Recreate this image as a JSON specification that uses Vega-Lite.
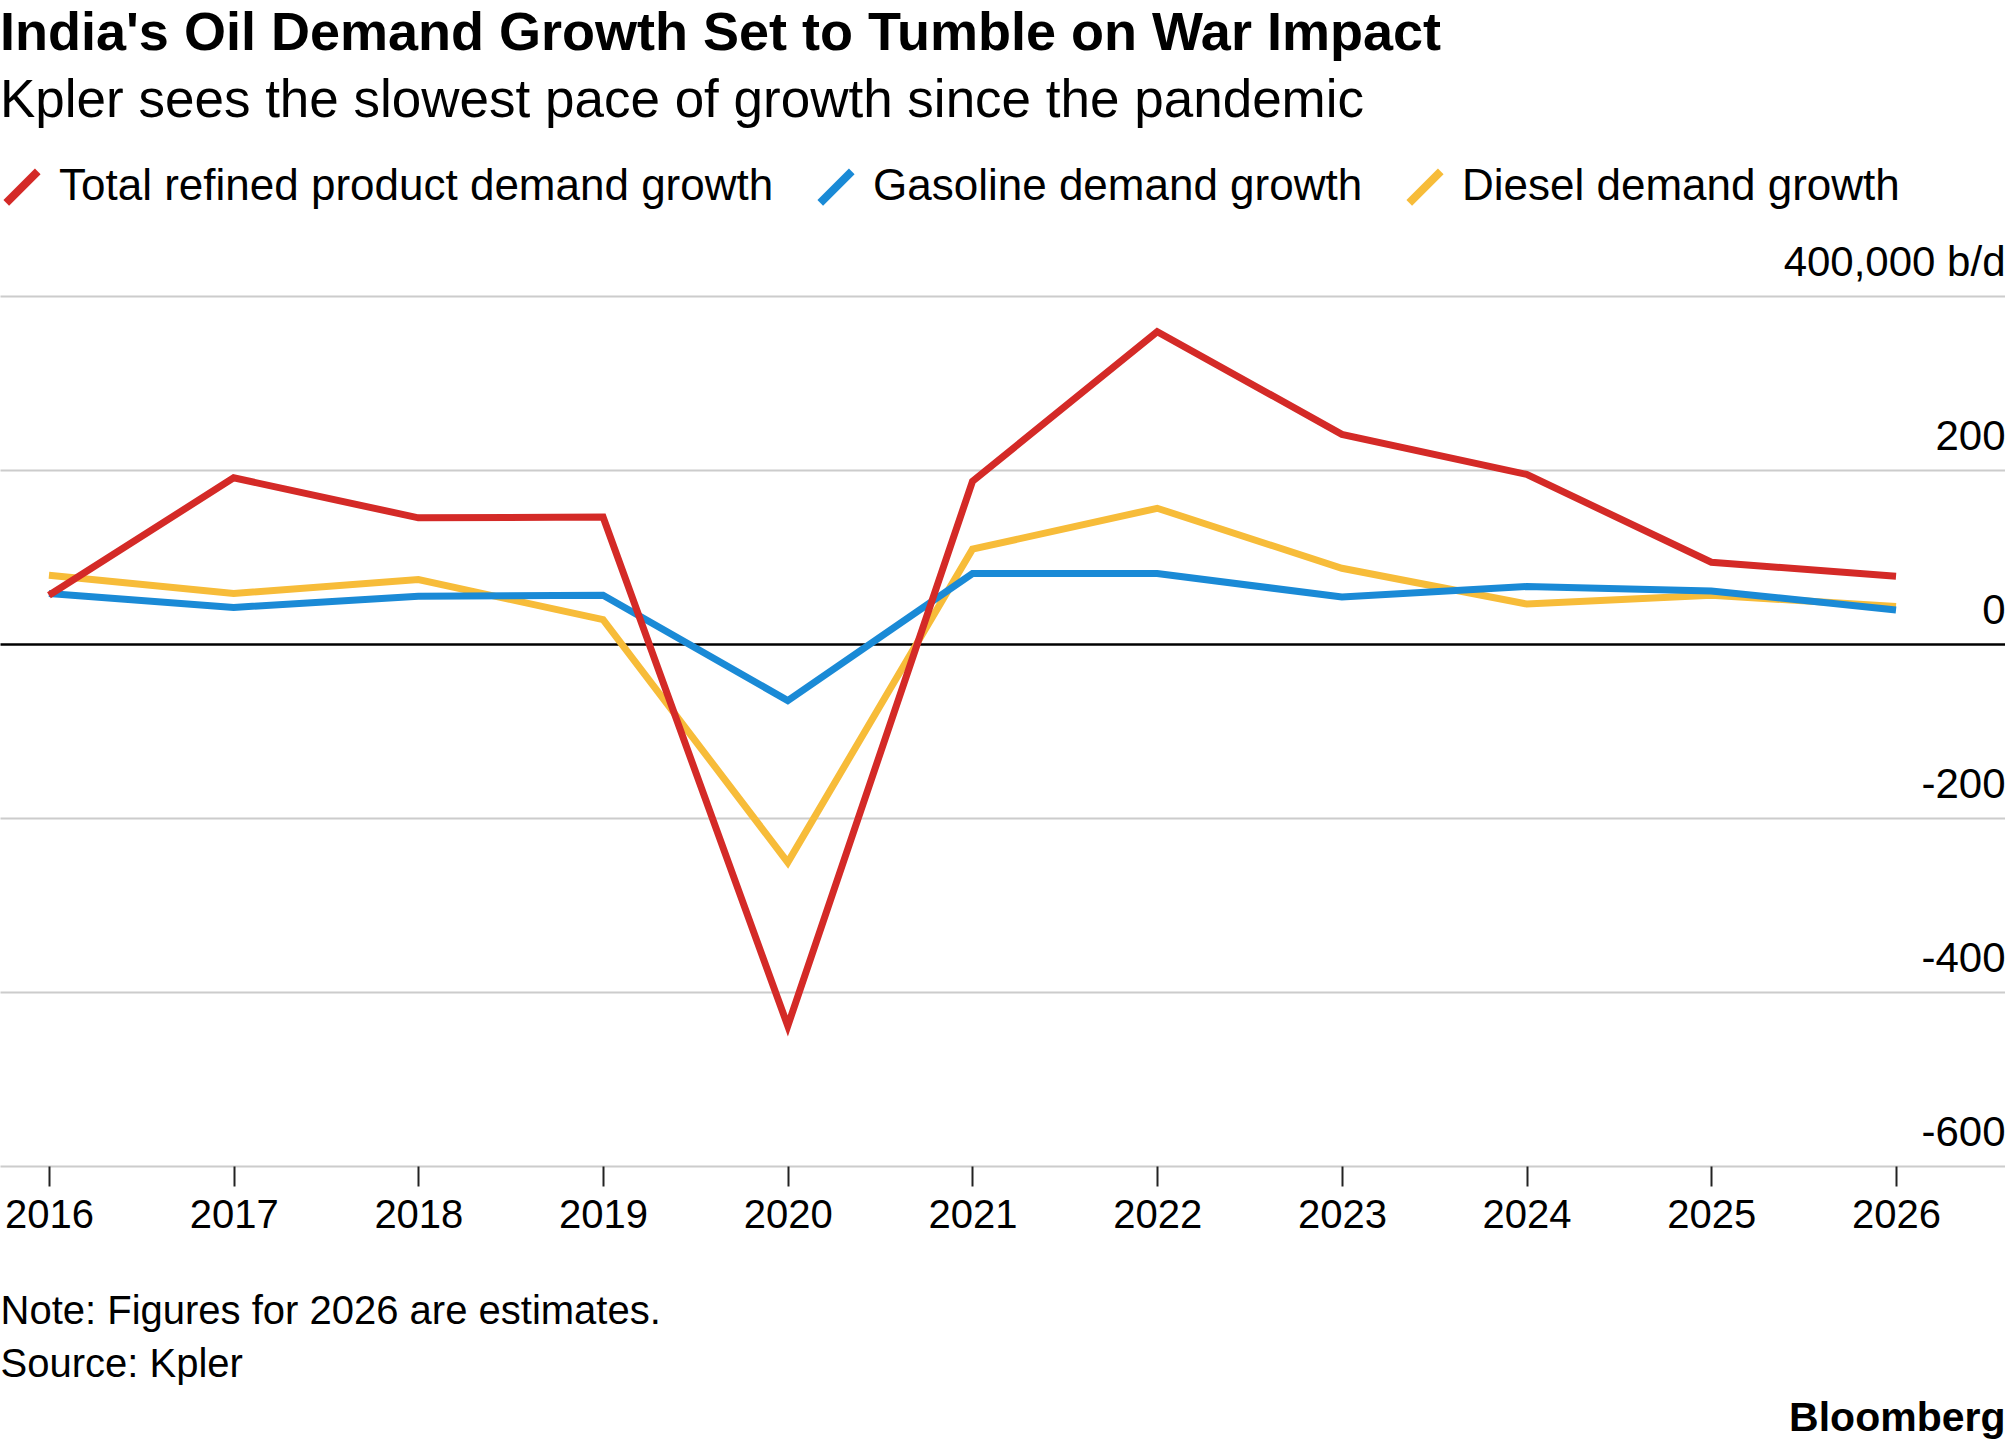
{
  "$schema": "https://vega.github.io/schema/vega-lite/v6.json",
  "description": "India oil demand growth by product, Kpler",
  "width": 2005,
  "height": 870,
  "autosize": {"type": "none"},
  "padding": {"left": 0, "top": 296, "right": 0, "bottom": 280},
  "background": "#ffffff",
  "title": {
    "text": "India's Oil Demand Growth Set to Tumble on War Impact",
    "subtitle": "Kpler sees the slowest pace of growth since the pandemic",
    "anchor": "start",
    "frame": "group",
    "offset": 37,
    "font": "Liberation Sans",
    "fontSize": 54,
    "fontWeight": "bold",
    "color": "#000000",
    "subtitleFont": "Liberation Sans",
    "subtitleFontSize": 53,
    "subtitleColor": "#000000",
    "subtitlePadding": 14
  },
  "data": {
    "values": [
      {"year": 2016, "series": "Diesel demand growth", "value": 79},
      {"year": 2017, "series": "Diesel demand growth", "value": 58},
      {"year": 2018, "series": "Diesel demand growth", "value": 74},
      {"year": 2019, "series": "Diesel demand growth", "value": 28},
      {"year": 2020, "series": "Diesel demand growth", "value": -251},
      {"year": 2021, "series": "Diesel demand growth", "value": 109},
      {"year": 2022, "series": "Diesel demand growth", "value": 156},
      {"year": 2023, "series": "Diesel demand growth", "value": 87},
      {"year": 2024, "series": "Diesel demand growth", "value": 46},
      {"year": 2025, "series": "Diesel demand growth", "value": 56},
      {"year": 2026, "series": "Diesel demand growth", "value": 43},
      {"year": 2016, "series": "Gasoline demand growth", "value": 58},
      {"year": 2017, "series": "Gasoline demand growth", "value": 42},
      {"year": 2018, "series": "Gasoline demand growth", "value": 55},
      {"year": 2019, "series": "Gasoline demand growth", "value": 56},
      {"year": 2020, "series": "Gasoline demand growth", "value": -65},
      {"year": 2021, "series": "Gasoline demand growth", "value": 81},
      {"year": 2022, "series": "Gasoline demand growth", "value": 81},
      {"year": 2023, "series": "Gasoline demand growth", "value": 54},
      {"year": 2024, "series": "Gasoline demand growth", "value": 66},
      {"year": 2025, "series": "Gasoline demand growth", "value": 61},
      {"year": 2026, "series": "Gasoline demand growth", "value": 39},
      {"year": 2016, "series": "Total refined product demand growth", "value": 56},
      {"year": 2017, "series": "Total refined product demand growth", "value": 191},
      {"year": 2018, "series": "Total refined product demand growth", "value": 145},
      {"year": 2019, "series": "Total refined product demand growth", "value": 146},
      {"year": 2020, "series": "Total refined product demand growth", "value": -439},
      {"year": 2021, "series": "Total refined product demand growth", "value": 187},
      {"year": 2022, "series": "Total refined product demand growth", "value": 359},
      {"year": 2023, "series": "Total refined product demand growth", "value": 241},
      {"year": 2024, "series": "Total refined product demand growth", "value": 195},
      {"year": 2025, "series": "Total refined product demand growth", "value": 94},
      {"year": 2026, "series": "Total refined product demand growth", "value": 78}
    ]
  },
  "mark": {"type": "line", "strokeWidth": 7, "strokeJoin": "miter", "strokeCap": "butt"},
  "encoding": {
    "x": {
      "field": "year",
      "type": "quantitative",
      "scale": {"domain": [2015.735, 2026.59], "nice": false, "zero": false},
      "axis": {
        "values": [2016, 2017, 2018, 2019, 2020, 2021, 2022, 2023, 2024, 2025, 2026],
        "format": "d",
        "grid": false,
        "domain": false,
        "ticks": true,
        "tickSize": 20,
        "tickWidth": 2,
        "tickColor": "#222222",
        "labelFont": "Liberation Sans",
        "labelFontSize": 40,
        "labelColor": "#000000",
        "labelBaseline": "alphabetic",
        "labelPadding": 41,
        "labelFlush": false,
        "labelOverlap": false,
        "title": ["Note: Figures for 2026 are estimates.", "Source: Kpler"],
        "titleFont": "Liberation Sans",
        "titleFontSize": 40,
        "titleFontWeight": "normal",
        "titleColor": "#000000",
        "titleAlign": "left",
        "titleBaseline": "alphabetic",
        "titleLineHeight": 53,
        "titleX": 0,
        "titleY": 157
      }
    },
    "y": {
      "field": "value",
      "type": "quantitative",
      "scale": {"domain": [-600, 400], "nice": false, "zero": false},
      "axis": {
        "orient": "right",
        "values": [-600, -400, -200, 0, 200, 400],
        "labelExpr": "datum.value == 400 ? '400,000 b/d' : '' + datum.value",
        "grid": true,
        "gridColor": {"condition": {"test": "datum.value === 0", "value": "#000000"}, "value": "#cccccc"},
        "gridWidth": {"condition": {"test": "datum.value === 0", "value": 2.5}, "value": 2},
        "domain": false,
        "ticks": false,
        "tickSize": 0,
        "labelFont": "Liberation Sans",
        "labelFontSize": 42,
        "labelColor": "#000000",
        "labelAlign": "right",
        "labelBaseline": "alphabetic",
        "labelPadding": 0,
        "labelOffset": -21,
        "labelLimit": 500,
        "labelFlush": false,
        "labelOverlap": false,
        "title": "Bloomberg",
        "titleFont": "Liberation Sans",
        "titleFontSize": 41,
        "titleFontWeight": "bold",
        "titleColor": "#000000",
        "titleAngle": 0,
        "titleAlign": "right",
        "titleBaseline": "alphabetic",
        "titleX": 0,
        "titleY": 1134
      }
    },
    "color": {
      "field": "series",
      "type": "nominal",
      "scale": {
        "domain": ["Total refined product demand growth", "Gasoline demand growth", "Diesel demand growth"],
        "range": ["#d42a27", "#1a8ad6", "#f7bc39"]
      },
      "legend": {
        "orient": "none",
        "legendX": 0,
        "legendY": -131,
        "direction": "horizontal",
        "title": null,
        "padding": 0,
        "symbolType": "M-0.9,0.9L0.9,-0.9",
        "symbolSize": 1225,
        "symbolStrokeWidth": 8,
        "labelFont": "Liberation Sans",
        "labelFontSize": 44,
        "labelColor": "#000000",
        "labelOffset": 15,
        "labelLimit": 1000,
        "columnPadding": 30
      }
    }
  },
  "config": {
    "view": {"stroke": null}
  }
}
